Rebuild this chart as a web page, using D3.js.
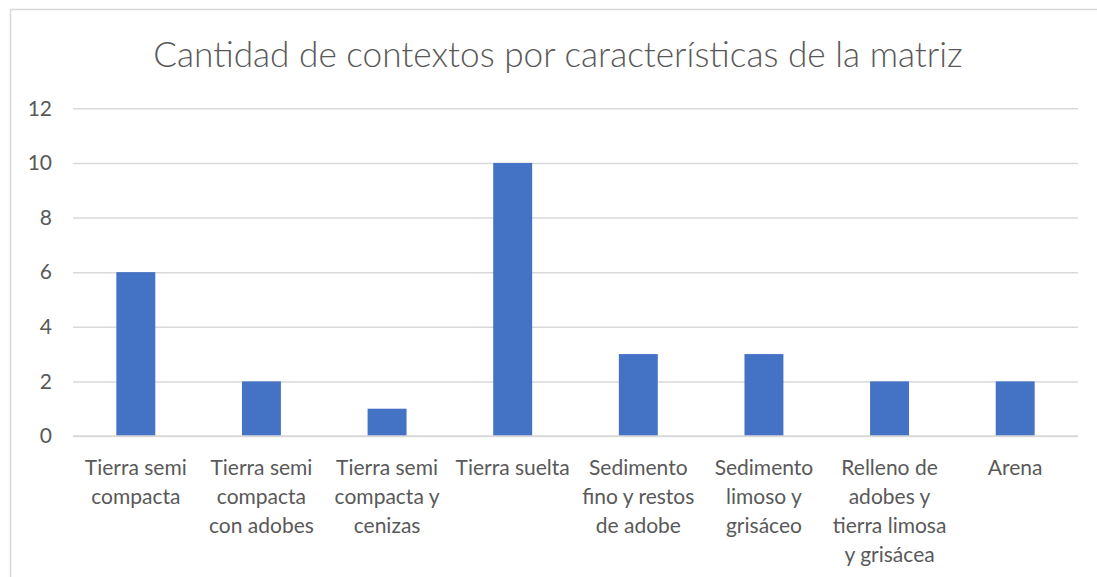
<!DOCTYPE html>
<html>
<head>
<meta charset="utf-8">
<script src="https://cdn.jsdelivr.net/npm/d3@7"></script>
<style>
  html, body { margin: 0; padding: 0; background: #fff; }
  svg { display: block; }
  text { font-family: Lato, "Open Sans", sans-serif; fill: #595959; }
</style>
</head>
<body>
<svg id="chart" width="1097" height="577"></svg>
<script>
// Chart data
const categories = [
  ["Tierra semi", "compacta"],
  ["Tierra semi", "compacta", "con adobes"],
  ["Tierra semi", "compacta y", "cenizas"],
  ["Tierra suelta"],
  ["Sedimento", "fino y restos", "de adobe"],
  ["Sedimento", "limoso y", "grisáceo"],
  ["Relleno de", "adobes y", "tierra limosa", "y grisácea"],
  ["Arena"]
];
const values = [6, 2, 1, 10, 3, 3, 2, 2];
const yTicks = [0, 2, 4, 6, 8, 10, 12];
const title = "Cantidad de contextos por características de la matriz";

const svg = d3.select("#chart");
const W = 1097, H = 577;
const plot = { left: 73, right: 1078, top: 108.3, bottom: 436 };

// Outer chart frame
svg.append("rect")
  .attr("x", 10.5).attr("y", 9.5)
  .attr("width", W + 20).attr("height", H + 20)
  .attr("fill", "#fff").attr("stroke", "#d9d9d9").attr("stroke-width", 1.5);

const x = d3.scaleBand()
  .domain(d3.range(categories.length))
  .range([plot.left, plot.right])
  .paddingInner(0.69).paddingOuter(0.345);

const y = d3.scaleLinear().domain([0, 12]).range([plot.bottom, plot.top]);

// Gridlines and y labels
const yAxis = d3.axisLeft(y).tickValues(yTicks)
  .tickSize(-(plot.right - plot.left)).tickPadding(21).tickFormat(d3.format("d"));
const gy = svg.append("g").attr("transform", `translate(${plot.left},0)`).call(yAxis);
gy.select(".domain").remove();
gy.selectAll(".tick line").attr("stroke", "#d9d9d9").attr("stroke-width", 1.5);
gy.selectAll(".tick text").attr("font-size", 21).attr("fill", "#595959")
  .style("font-family", "Lato, 'Open Sans', sans-serif");

// Bars
svg.append("g").selectAll("rect").data(values).join("rect")
  .attr("x", (d, i) => x(i))
  .attr("width", x.bandwidth())
  .attr("y", d => y(d))
  .attr("height", d => y(0) - y(d))
  .attr("fill", "#4472c4");

// Re-draw baseline on top of bars
svg.append("line")
  .attr("x1", plot.left).attr("x2", plot.right)
  .attr("y1", y(0)).attr("y2", y(0))
  .attr("stroke", "#d9d9d9").attr("stroke-width", 1.5);

// Category labels (multi-line)
const labels = svg.append("g").selectAll("text").data(categories).join("text")
  .attr("text-anchor", "middle")
  .attr("font-size", 21)
  .attr("x", (d, i) => x(i) + x.bandwidth() / 2)
  .attr("y", 475);
labels.selectAll("tspan").data(d => d).join("tspan")
  .attr("x", function () { return d3.select(this.parentNode).attr("x"); })
  .attr("dy", (d, i) => i === 0 ? 0 : 29)
  .text(d => d);

// Title
svg.append("text")
  .attr("x", 558).attr("y", 67)
  .attr("text-anchor", "middle")
  .attr("font-size", 35.2)
  .attr("font-weight", 300)
  .text(title);
</script>
</body>
</html>
